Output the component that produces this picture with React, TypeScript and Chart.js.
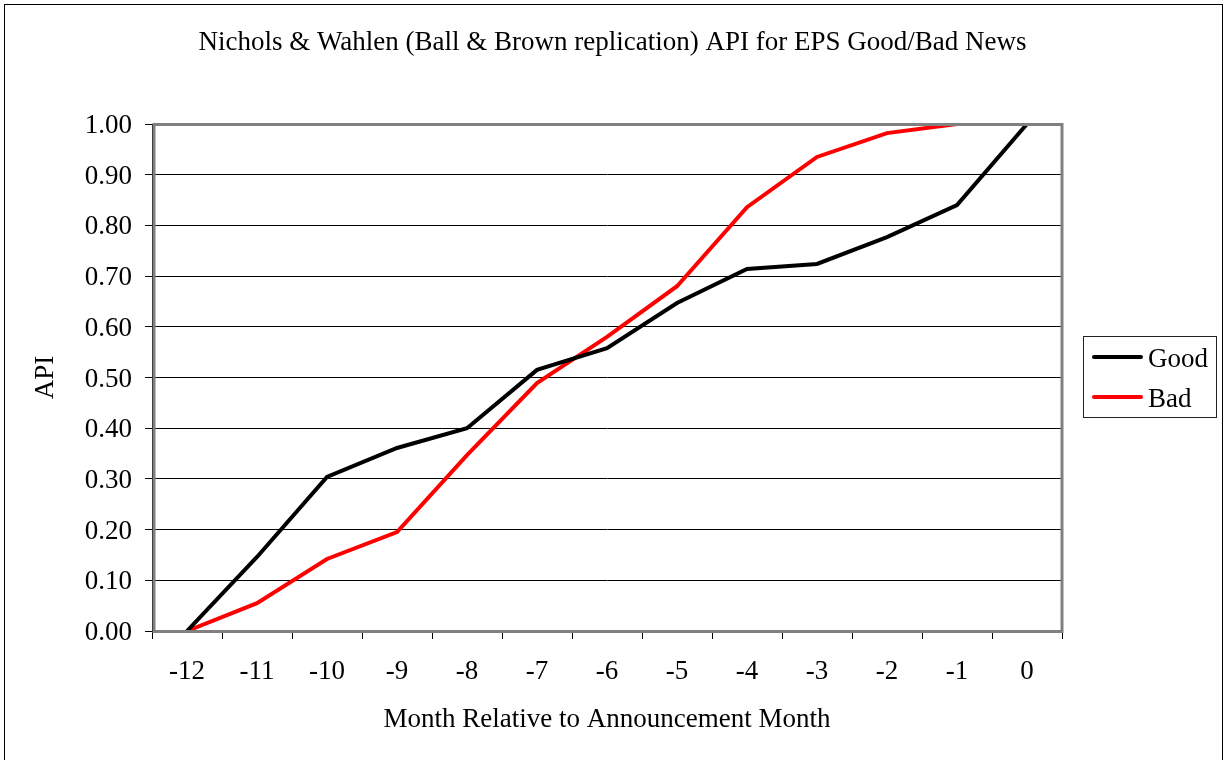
import React, { useEffect, useRef } from "react";
import { Chart, registerables } from "chart.js";

Chart.register(...registerables);

const categories = ["-12", "-11", "-10", "-9", "-8", "-7", "-6", "-5", "-4", "-3", "-2", "-1", "0"];
const goodValues = [0, 0.146, 0.304, 0.361, 0.4, 0.515, 0.558, 0.647, 0.714, 0.724, 0.777, 0.84, 1.0];
const badValues = [0, 0.055, 0.142, 0.195, 0.347, 0.489, 0.58, 0.68, 0.836, 0.935, 0.982, 1.0, 1.0];
const seriesNames = ["Good", "Bad"];
const seriesColors = ["#000000", "#ff0000"];
const chartTitle = "Nichols & Wahlen (Ball & Brown replication) API for EPS Good/Bad News";
const xTitle = "Month Relative to Announcement Month";
const yTitle = "API";

const FONT = "'Liberation Serif', 'Times New Roman', serif";

const framePlugin = {
  id: "framePlugin",
  afterDatasetsDraw(chart: any) {
    const { ctx, chartArea } = chart;
    ctx.save();
    ctx.strokeStyle = "#808080";
    ctx.lineWidth = 3;
    ctx.strokeRect(chartArea.left + 2, chartArea.top + 0.5, chartArea.right - chartArea.left - 2, chartArea.bottom - chartArea.top);
    ctx.restore();
  },
  afterDraw(chart: any) {
    const { ctx } = chart;
    ctx.save();
    // outer frame
    ctx.strokeStyle = "#000";
    ctx.lineWidth = 1;
    ctx.strokeRect(4.5, 4.5, 1218, 800);
    // legend
    const bx = 1083.5, by = 336.5, bw = 133, bh = 81;
    ctx.strokeStyle = "#222";
    ctx.strokeRect(bx, by, bw, bh);
    const rows = [357, 397];
    chart.data.datasets.forEach((ds: any, i: number) => {
      const y = rows[i];
      ctx.strokeStyle = ds.borderColor;
      ctx.lineWidth = 4;
      ctx.lineCap = "round";
      ctx.beginPath();
      ctx.moveTo(1094, y);
      ctx.lineTo(1141, y);
      ctx.stroke();
      ctx.fillStyle = "#000";
      ctx.font = `27px ${FONT}`;
      ctx.textAlign = "left";
      ctx.textBaseline = "middle";
      ctx.fillText(ds.label, 1148, y + 3);
    });
    ctx.restore();
  },
};

export default function App() {
  const ref = useRef<HTMLCanvasElement | null>(null);

  useEffect(() => {
    if (!ref.current) return;
    Chart.defaults.font.family = FONT;
    const chart = new Chart(ref.current, {
      type: "line",
      data: {
        labels: categories,
        datasets: [
          {
            label: seriesNames[0],
            data: goodValues,
            borderColor: seriesColors[0],
            backgroundColor: seriesColors[0],
            borderWidth: 4,
            pointRadius: 0,
            tension: 0,
            fill: false,
          },
          {
            label: seriesNames[1],
            data: badValues,
            borderColor: seriesColors[1],
            backgroundColor: seriesColors[1],
            borderWidth: 4,
            pointRadius: 0,
            tension: 0,
            fill: false,
          },
        ],
      },
      options: {
        responsive: false,
        animation: false,
        layout: { padding: 0 },
        plugins: {
          legend: { display: false },
          tooltip: { enabled: false },
          title: {
            display: true,
            text: chartTitle,
            color: "#000",
            font: { family: FONT, size: 27, weight: "normal", lineHeight: 1.2 },
            padding: { top: 27, bottom: 64.6 },
          },
        },
        scales: {
          x: {
            type: "category",
            offset: true,
            grid: {
              offset: true,
              drawOnChartArea: false,
              drawTicks: true,
              tickLength: 8,
              color: "#000",
              lineWidth: 1,
            },
            border: { display: true, color: "#000", width: 1 },
            ticks: {
              color: "#000",
              padding: 17,
              maxRotation: 0,
              autoSkip: false,
              font: { family: FONT, size: 27, lineHeight: 1.2 },
            },
            title: {
              display: true,
              text: xTitle,
              color: "#000",
              font: { family: FONT, size: 27, lineHeight: 1.2 },
              padding: { top: 0, bottom: 24 },
            },
            afterFit(scale: any) {
              scale.height = 129;
            },
          },
          y: {
            type: "linear",
            min: 0,
            max: 1,
            grid: {
              drawOnChartArea: true,
              drawTicks: true,
              tickLength: 7,
              color: "#000",
              lineWidth: 1,
            },
            border: { display: true, color: "#000", width: 1 },
            ticks: {
              stepSize: 0.1,
              color: "#000",
              padding: 13,
              labelOffset: 2,
              font: { family: FONT, size: 27, lineHeight: 1.2 },
              callback: (v: any) => Number(v).toFixed(2),
            },
            title: {
              display: true,
              text: yTitle,
              color: "#000",
              font: { family: FONT, size: 27, lineHeight: 1.2 },
              padding: { top: 30, bottom: 0 },
            },
            afterFit(scale: any) {
              scale.width = 152;
            },
          },
          spacer: {
            type: "linear",
            position: "right",
            display: true,
            grid: { display: false, drawTicks: false },
            border: { display: false },
            ticks: { display: false },
            afterFit(scale: any) {
              scale.width = 163;
            },
          },
        },
      },
      plugins: [framePlugin],
    } as any);
    return () => chart.destroy();
  }, []);

  return (
    <div style={{ position: "absolute", left: 0, top: 0, width: 1225, height: 760, background: "#fff" }}>
      <canvas ref={ref} width={1225} height={760} style={{ display: "block" }} />
    </div>
  );
}
